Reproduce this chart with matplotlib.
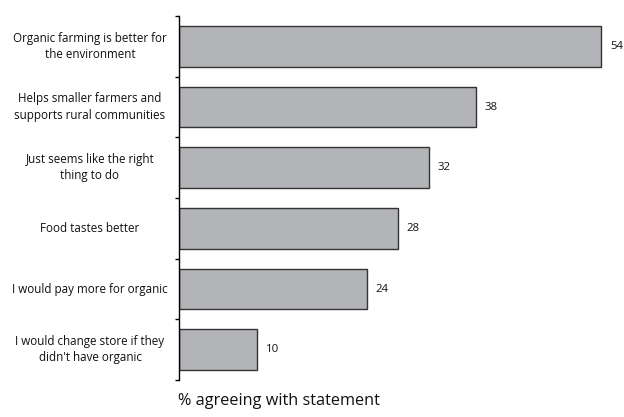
import matplotlib

matplotlib.use("Agg")
import matplotlib.pyplot as plt
import matplotlib.transforms as mtransforms
import numpy as np

# Survey: reasons for buying organic
STATEMENTS = [
    "Organic farming is better for\nthe environment",
    "Helps smaller farmers and\nsupports rural communities",
    "Just seems like the right\nthing to do",
    "Food tastes better",
    "I would pay more for organic",
    "I would change store if they\ndidn't have organic",
]
PCT_AGREE = [54, 38, 32, 28, 24, 10]

plt.rcParams["font.family"] = ["Open Sans", "DejaVu Sans"]

fig = plt.figure(figsize=(6.24, 4.17), dpi=100)
ax = fig.add_axes([179 / 624, 37 / 417, 1 - 179 / 624, 364 / 417])

n = len(STATEMENTS)
y = np.arange(n)
ax.barh(y, PCT_AGREE, height=0.67, color="#b3b4b8", edgecolor="#333333", linewidth=1.0)

for yi, v in zip(y, PCT_AGREE):
    ax.text(v + 1.1, yi, str(v), va="center", ha="left", fontsize=8.2, color="#111111")

ax.set_xlim(0, 56.9)
ax.set_ylim(n - 0.5, -0.5)

# boundary ticks on the axis; statement labels centred in the left margin
ax.set_yticks(np.arange(-0.5, n, 1.0))
ax.set_yticklabels([])
ax.tick_params(axis="y", which="major", length=3, width=1, direction="out")

label_tf = mtransforms.blended_transform_factory(fig.transFigure, ax.transData)
for yi, s in zip(y, STATEMENTS):
    ax.text(90 / 624, yi, s, transform=label_tf, ha="center", va="center",
            multialignment="center", fontsize=8.4, color="#111111",
            linespacing=1.35, clip_on=False)

ax.set_xticks([])
for side in ("top", "right", "bottom"):
    ax.spines[side].set_visible(False)
ax.spines["left"].set_linewidth(1.0)

fig.text(279 / 624, 1 - 401 / 417, "% agreeing with statement",
         ha="center", va="center", fontsize=11.7, color="#111111")

fig.savefig("out.png", dpi=100)
